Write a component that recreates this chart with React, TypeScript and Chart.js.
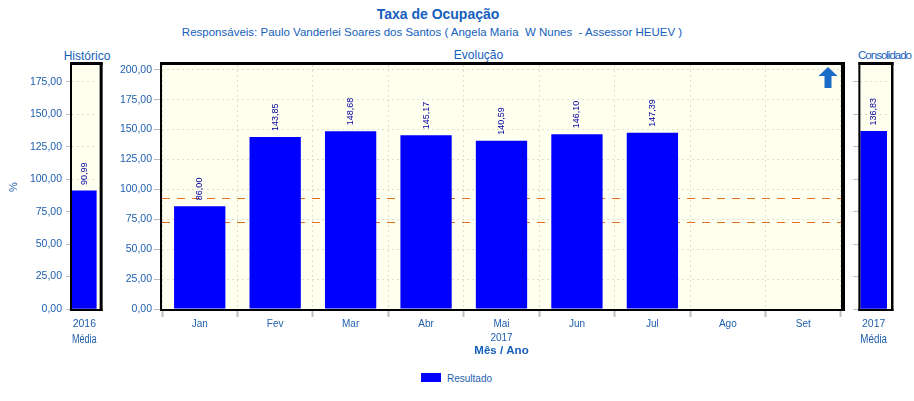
import React, { useEffect, useRef } from 'react';
import { Chart, registerables } from 'chart.js';

Chart.register(...registerables);

// ---------- data ----------
const months = ['Jan', 'Fev', 'Mar', 'Abr', 'Mai', 'Jun', 'Jul', 'Ago', 'Set'];
const resultado: (number | null)[] = [86.0, 143.85, 148.68, 145.17, 140.59, 146.1, 147.39, null, null];
const yearLabels = ['2017'];
const histLabels = ['2016'];
const histValues = [90.99];
const consLabels = ['2017'];
const consValues = [136.83];
const thresholds = [93, 73];
const mainMax = 204;
const sideMax = 188;
const tickStep = 25;

// ---------- styles ----------
const FONT = "'Liberation Sans', Arial, Helvetica, sans-serif";
const TXT = '#1f5fae';
const TITLE = '#1560bd';
const BAR = '#0000ff';
const VAL = '#0000a0';
const IVORY = '#fffff0';
const GRID = 'rgba(0,0,0,0.13)';
const TICKC = '#bdbdbd';

Chart.defaults.font.family = FONT;
Chart.defaults.color = TXT;

const fmt = (v: number) => v.toFixed(2).replace('.', ',');

const panelPlugin = (ext: number, rb: number) => ({
  id: 'panel',
  beforeDraw(chart: any) {
    const { ctx, chartArea: a } = chart;
    ctx.save();
    ctx.fillStyle = IVORY;
    ctx.fillRect(a.left, a.top, a.right - a.left + ext, a.bottom - a.top);
    ctx.restore();
  },
  afterDraw(chart: any) {
    const { ctx, chartArea: a } = chart;
    const r = a.right + ext;
    ctx.save();
    ctx.fillStyle = '#000';
    ctx.fillRect(a.left - 2, a.top - 3, r - a.left + 2 + rb, 3);
    ctx.fillRect(a.left - 2, a.bottom, r - a.left + 2 + rb, 2);
    ctx.fillRect(a.left - 2, a.top - 3, 2, a.bottom - a.top + 5);
    ctx.fillRect(r, a.top - 3, rb, a.bottom - a.top + 5);
    ctx.restore();
  },
});

const valueLabelPlugin = {
  id: 'valueLabels',
  afterDatasetsDraw(chart: any) {
    const { ctx } = chart;
    const meta = chart.getDatasetMeta(0);
    const data = chart.data.datasets[0].data;
    ctx.save();
    ctx.font = `9px ${FONT}`;
    ctx.fillStyle = VAL;
    ctx.textAlign = 'left';
    ctx.textBaseline = 'middle';
    meta.data.forEach((bar: any, i: number) => {
      const v = data[i];
      if (v === null || v === undefined) return;
      ctx.save();
      ctx.translate(bar.x, bar.y - 6);
      ctx.rotate(-Math.PI / 2);
      ctx.fillText(fmt(v), 0, 0);
      ctx.restore();
    });
    ctx.restore();
  },
};

const thresholdPlugin = {
  id: 'thresholds',
  beforeDatasetsDraw(chart: any) {
    const { ctx, chartArea: a, scales } = chart;
    ctx.save();
    ctx.strokeStyle = '#e0701e';
    ctx.lineWidth = 1;
    ctx.setLineDash([8, 7]);
    thresholds.forEach((t) => {
      const y = Math.round(scales.y.getPixelForValue(t)) + 0.5;
      ctx.beginPath();
      ctx.moveTo(a.left, y);
      ctx.lineTo(a.right, y);
      ctx.stroke();
    });
    ctx.restore();
  },
};

const arrowPlugin = {
  id: 'arrow',
  afterDraw(chart: any) {
    const { ctx, chartArea: a } = chart;
    const cx = a.right - 13;
    const top = a.top + 2;
    ctx.save();
    ctx.fillStyle = '#1a6cc8';
    ctx.beginPath();
    ctx.moveTo(cx, top);
    ctx.lineTo(cx + 9.5, top + 9);
    ctx.lineTo(cx + 3.5, top + 9);
    ctx.lineTo(cx + 3.5, top + 21);
    ctx.lineTo(cx - 3.5, top + 21);
    ctx.lineTo(cx - 3.5, top + 9);
    ctx.lineTo(cx - 9.5, top + 9);
    ctx.closePath();
    ctx.fill();
    ctx.restore();
  },
};

const buildTicks = (scale: any) => {
  const out: any[] = [];
  for (let v = 0; v <= scale.max + 1e-9; v += tickStep) out.push({ value: v });
  scale.ticks = out;
};

function yAxis(max: number, width: number, tickLength: number, showLabels: boolean, withTitle: boolean, pad: number) {
  return {
    type: 'linear',
    min: 0,
    max,
    afterBuildTicks: buildTicks,
    afterFit: (s: any) => {
      s.width = width;
    },
    ticks: {
      display: showLabels,
      stepSize: tickStep,
      callback: (v: any) => fmt(Number(v)),
      font: { size: 10.5 },
      color: TXT,
      padding: pad,
    },
    grid: {
      color: GRID,
      drawTicks: true,
      tickLength,
      tickColor: TICKC,
      tickWidth: 1,
      tickBorderDash: [],
    },
    border: { display: false, dash: [2, 3] },
    title: withTitle
      ? { display: true, text: '%', color: TXT, font: { size: 11 }, padding: { top: 7, bottom: 0 } }
      : { display: false },
  };
}

function sideConfig(labels: string[], values: number[], withLabels: boolean, yWidth: number, tickLength: number, padRight: number, ext: number, rb: number) {
  return {
    type: 'bar',
    data: {
      labels,
      datasets: [
        {
          label: 'Resultado',
          data: values,
          backgroundColor: BAR,
          borderWidth: 0,
          barPercentage: 1,
          categoryPercentage: 1,
        },
      ],
    },
    options: {
      responsive: false,
      animation: false,
      layout: { padding: { top: 65, left: 0, right: padRight, bottom: 0 } },
      plugins: { legend: { display: false }, tooltip: { enabled: false } },
      scales: {
        x: {
          type: 'category',
          offset: true,
          afterFit: (s: any) => {
            s.height = 39;
          },
          grid: { display: false, drawTicks: false },
          border: { display: false },
          ticks: { font: { size: 10.5 }, color: TXT, padding: 9 },
          title: { display: true, text: 'Média', color: TXT, font: { size: 12 }, padding: { top: 0, bottom: 1 } },
        },
        y: yAxis(sideMax, yWidth, tickLength, withLabels, withLabels, 4),
      },
    },
    plugins: [panelPlugin(ext, rb), valueLabelPlugin],
  };
}

function mainConfig() {
  return {
    type: 'bar',
    data: {
      labels: months,
      datasets: [
        {
          label: 'Resultado',
          data: resultado,
          backgroundColor: BAR,
          borderWidth: 0,
          barPercentage: 0.68,
          categoryPercentage: 1,
        },
      ],
    },
    options: {
      responsive: false,
      animation: false,
      layout: { padding: { top: 65, left: 0, right: 9, bottom: 0 } },
      plugins: { legend: { display: false }, tooltip: { enabled: false } },
      scales: {
        x: {
          type: 'category',
          offset: true,
          weight: 0,
          afterFit: (s: any) => {
            s.height = 22;
          },
          grid: {
            display: true,
            offset: true,
            color: GRID,
            drawTicks: true,
            tickLength: 8,
            tickColor: TICKC,
            tickWidth: 2,
            tickBorderDash: [],
          },
          border: { display: false, dash: [2, 3] },
          ticks: { font: { size: 10 }, color: TXT, padding: 1 },
        },
        x2: {
          type: 'category',
          labels: yearLabels,
          position: 'bottom',
          offset: true,
          weight: 1,
          afterFit: (s: any) => {
            s.height = 27;
          },
          grid: { display: false, drawTicks: false },
          border: { display: false },
          ticks: { font: { size: 10 }, color: TXT, padding: 1 },
          title: {
            display: true,
            text: 'Mês / Ano',
            color: TITLE,
            font: { size: 11.5, weight: 'bold' },
            padding: { top: 0, bottom: 0 },
          },
        },
        y: yAxis(mainMax, 52, 8, true, false, 2),
      },
    },
    plugins: [panelPlugin(0, 4), thresholdPlugin, valueLabelPlugin, arrowPlugin],
  };
}

function ChartCanvas({ left, width, height, make }: { left: number; width: number; height: number; make: () => any }) {
  const ref = useRef<HTMLCanvasElement | null>(null);
  useEffect(() => {
    if (!ref.current) return;
    const chart = new Chart(ref.current, make());
    return () => chart.destroy();
  }, []);
  return (
    <canvas
      ref={ref}
      width={width}
      height={height}
      style={{ position: 'absolute', left, top: 0, width, height }}
    />
  );
}

const textStyle = (x: number, y: number, size: number, extra: any = {}): any => ({
  position: 'absolute',
  left: x,
  top: y,
  transform: 'translate(-50%, -50%)',
  fontSize: size,
  lineHeight: 1,
  whiteSpace: 'pre',
  color: TITLE,
  fontFamily: FONT,
  ...extra,
});

export default function App() {
  return (
    <div
      style={{
        position: 'absolute',
        left: 0,
        top: 0,
        width: 914,
        height: 401,
        background: '#fff',
        overflow: 'hidden',
        fontFamily: FONT,
      }}
    >
      <div style={textStyle(438, 14, 14, { fontWeight: 'bold' })}>Taxa de Ocupação</div>
      <div style={textStyle(432, 32.5, 11.5)}>
        {'Responsáveis: Paulo Vanderlei Soares dos Santos ( Angela Maria  W Nunes  - Assessor HEUEV )'}
      </div>
      <div style={textStyle(478.5, 55, 12)}>Evolução</div>
      <div style={textStyle(87, 55.5, 12)}>Histórico</div>
      <div style={textStyle(884.5, 55.5, 11.5, { letterSpacing: '-1px' })}>Consolidado</div>

      <ChartCanvas left={0} width={111} height={348} make={() => sideConfig(histLabels, histValues, true, 72, 6, 12, 3, 3)} />
      <ChartCanvas left={110} width={740} height={358} make={mainConfig} />
      <ChartCanvas left={846} width={68} height={348} make={() => sideConfig(consLabels, consValues, false, 14, 7, 27, 4, 2.5)} />

      <div
        style={{
          position: 'absolute',
          left: 421,
          top: 373,
          width: 20,
          height: 9,
          background: BAR,
        }}
      />
      <div style={textStyle(447, 378.5, 10, { transform: 'translate(0, -50%)', color: TXT })}>Resultado</div>
    </div>
  );
}
